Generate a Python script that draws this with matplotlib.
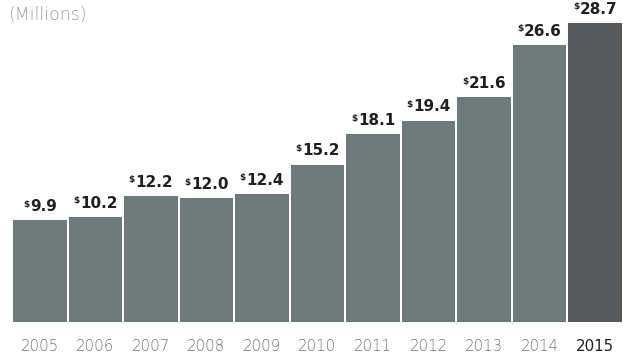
import matplotlib
matplotlib.use("Agg")
import matplotlib.pyplot as plt

years = ["2005", "2006", "2007", "2008", "2009", "2010", "2011", "2012", "2013", "2014", "2015"]
values = [9.9, 10.2, 12.2, 12.0, 12.4, 15.2, 18.1, 19.4, 21.6, 26.6, 28.7]

bar_color = "#6d7a79"
last_color = "#58595b"

fig = plt.figure(figsize=(6.23, 3.54), dpi=100)
ax = fig.add_axes([12 / 623, 31 / 354, 611 / 623, 323 / 354])

x = list(range(len(years)))
colors = [bar_color] * (len(years) - 1) + [last_color]
ax.bar(x, values, width=1.0, color=colors, edgecolor="white", linewidth=1.4)

ax.set_xlim(-0.5, len(years) - 0.5)
ax.set_ylim(0, 30.8)
ax.axis("off")

for xi, v in zip(x, values):
    t = ax.annotate(f"{v:.1f}", xy=(xi, v), xytext=(2.5, 6), textcoords="offset points",
                    ha="center", va="baseline", fontsize=11, fontweight="bold",
                    color="#231f20", family="DejaVu Sans")
    ax.annotate("$", xy=(0, 1), xycoords=t, xytext=(-0.5, -0.5), textcoords="offset points",
                ha="right", va="top", fontsize=6.5, fontweight="bold",
                color="#231f20", family="DejaVu Sans")

for xi, yr in zip(x, years):
    last = yr == years[-1]
    ax.text(xi, -2.28, yr, ha="center", va="center", fontsize=10.8,
            color="#231f20" if last else "#737577",
            family="DejaVu Sans", fontweight="normal" if last else "light")

fig.text(8 / 623, 1 - 15 / 354, "(Millions)", ha="left", va="center", fontsize=12.5,
         color="#9a9c9e", family="DejaVu Sans", fontweight="light")

fig.savefig("out.png", dpi=100)
